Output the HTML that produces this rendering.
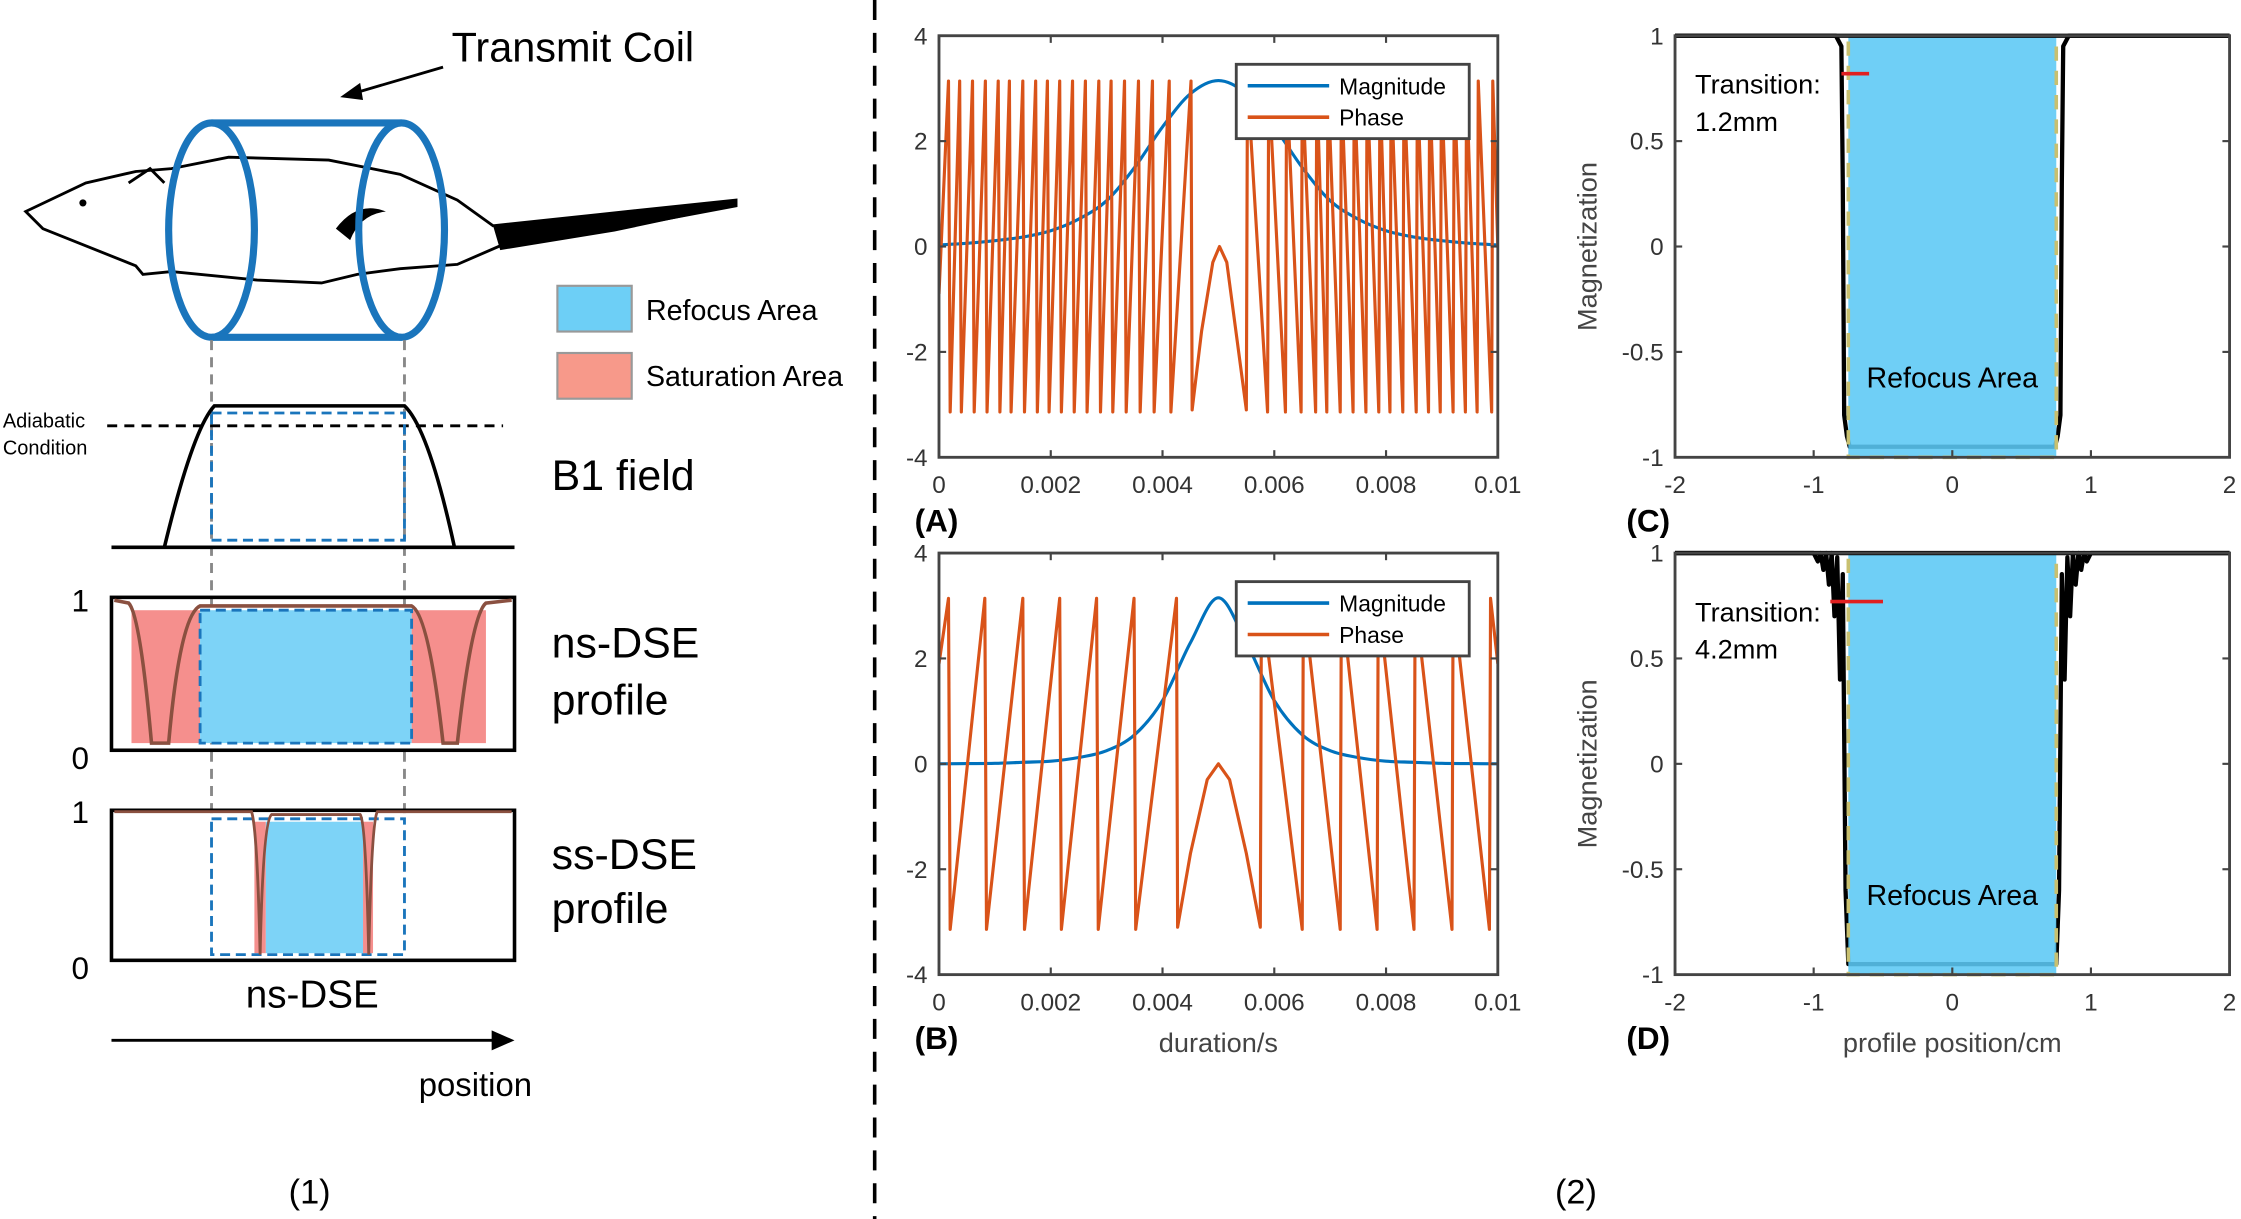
<!DOCTYPE html>
<html><head><meta charset="utf-8"><style>
html,body{margin:0;padding:0;background:#fff;}
svg{display:block;font-family:"Liberation Sans",sans-serif;}
</style></head><body>
<svg id="fig" xmlns="http://www.w3.org/2000/svg" width="2241" height="1219" viewBox="0 0 1568 853" preserveAspectRatio="none">
<rect x="0" y="0" width="1568" height="853" fill="#fff"/>
<g>
  <text x="316" y="43" font-size="29">Transmit Coil</text>
  <line x1="310" y1="47" x2="245" y2="66" stroke="#000" stroke-width="2"/>
  <polygon points="238,68 252,58 254,70" fill="#000"/>
  <g>
    <path d="M18,148 L60,128 L95,120 L120,118 L160,110 L230,112 L280,122 L320,140 L345,158 L420,150 L515,140 L515,144 L430,160 L350,172 L320,185 L280,188 L250,192 L225,198 L180,196 L120,190 L100,192 L95,186 L60,172 L30,160 Z" fill="#fff" stroke="#000" stroke-width="2"/>
    <path d="M345,158 L420,150 L515,140 L515,144 L430,162 L350,175 Z" fill="#000"/>
    <path d="M235,160 Q250,140 270,148 Q252,150 245,168 Z" fill="#000"/>
    <path d="M90,128 L105,118 L115,128" fill="none" stroke="#000" stroke-width="2"/>
    <circle cx="58" cy="142" r="2.5" fill="#000"/>
  </g>
  <g fill="none" stroke="#1a75bc" stroke-width="5">
    <ellipse cx="148" cy="161" rx="30" ry="75"/>
    <ellipse cx="281" cy="161" rx="30" ry="75"/>
    <line x1="148" y1="86" x2="281" y2="86"/>
    <line x1="148" y1="236" x2="281" y2="236"/>
  </g>
  <line x1="148" y1="238" x2="148" y2="572" stroke="#888" stroke-width="2" stroke-dasharray="7,5"/>
  <line x1="283" y1="238" x2="283" y2="572" stroke="#888" stroke-width="2" stroke-dasharray="7,5"/>
  <rect x="390" y="200" width="52" height="32" fill="#6dcff6" stroke="#999" stroke-width="1.5"/>
  <text x="452" y="224" font-size="20">Refocus Area</text>
  <rect x="390" y="247" width="52" height="32" fill="#f7998a" stroke="#999" stroke-width="1.5"/>
  <text x="452" y="270" font-size="20">Saturation Area</text>
  <line x1="75" y1="298" x2="352" y2="298" stroke="#000" stroke-width="2" stroke-dasharray="7,5"/>
  <text x="2" y="299" font-size="14">Adiabatic</text>
  <text x="2" y="318" font-size="14">Condition</text>
  <line x1="78" y1="383" x2="360" y2="383" stroke="#000" stroke-width="2.5"/>
  <path d="M115,383 Q135,300 150,284 L283,284 Q300,300 318,383" fill="none" stroke="#000" stroke-width="2.5"/>
  <rect x="148" y="289" width="135" height="89" fill="none" stroke="#1a75bc" stroke-width="2" stroke-dasharray="7,4"/>
  <text x="386" y="343" font-size="30">B1 field</text>
  <g>
    <rect x="92" y="427" width="48" height="93" fill="#f58f8d"/>
    <rect x="288" y="427" width="52" height="93" fill="#f58f8d"/>
    <rect x="140" y="427" width="148" height="93" fill="#7dd3f7"/>
    <rect x="140" y="427" width="148" height="93" fill="none" stroke="#1a75bc" stroke-width="2" stroke-dasharray="7,4"/>
    <rect x="78" y="418" width="282" height="107" fill="none" stroke="#000" stroke-width="2.5"/>
    <path d="M80,420 L90,422 Q98,430 106,520 L118,520 Q126,430 140,424 L288,424 Q300,430 310,520 L320,520 Q330,430 340,422 L358,420" fill="none" stroke="#8a5040" stroke-width="2.5"/>
  </g>
  <text x="50" y="428" font-size="22">1</text><text x="50" y="538" font-size="22">0</text>
  <text x="386" y="460" font-size="30">ns-DSE</text>
  <text x="386" y="500" font-size="30">profile</text>
  <g>
    <rect x="178" y="575" width="8" height="92" fill="#f58f8d"/>
    <rect x="254" y="575" width="7" height="92" fill="#f58f8d"/>
    <rect x="186" y="575" width="68" height="92" fill="#7dd3f7"/>
    <rect x="148" y="573" width="135" height="95" fill="none" stroke="#1a75bc" stroke-width="2" stroke-dasharray="7,4"/>
    <rect x="78" y="567" width="282" height="105" fill="none" stroke="#000" stroke-width="2.5"/>
    <path d="M80,568 L176,568 Q180,580 182,668 M182,668 Q184,575 190,570 L252,570 Q256,575 258,668 M258,668 Q260,575 264,568 L358,568" fill="none" stroke="#8a5040" stroke-width="2"/>
  </g>
  <text x="50" y="576" font-size="22">1</text><text x="50" y="685" font-size="22">0</text>
  <text x="386" y="608" font-size="30">ss-DSE</text>
  <text x="386" y="646" font-size="30">profile</text>
  <text x="172" y="705" font-size="27">ns-DSE</text>
  <line x1="78" y1="728" x2="350" y2="728" stroke="#000" stroke-width="2"/>
  <polygon points="360,728 344,721 344,735" fill="#000"/>
  <text x="293" y="767" font-size="23">position</text>
  <text x="202" y="842" font-size="24">(1)</text>
</g>
<line x1="612" y1="0" x2="612" y2="853" stroke="#000" stroke-width="2.5" stroke-dasharray="14,9"/>
<text x="1088" y="842" font-size="24">(2)</text>
<g id="charts"></g>
</svg>
<script>
const magT = [0,0.0005,0.001,0.0015,0.002,0.0025,0.003,0.0035,0.004,0.0045,0.005,0.0055,0.006,0.0065,0.007,0.0075,0.008,0.0085,0.009,0.0095,0.01];
const magA = [0.03,0.06,0.11,0.18,0.3,0.52,0.87,1.5,2.27,2.9,3.15,2.9,2.27,1.5,0.87,0.52,0.3,0.18,0.11,0.06,0.03];
const magB = [0.0,0.005,0.01,0.03,0.05,0.12,0.25,0.55,1.2,2.3,3.15,2.3,1.2,0.55,0.25,0.12,0.05,0.03,0.01,0.005,0.0];
const wrapLeftA = [0.00017,0.00037,0.0006,0.00083,0.00106,0.00126,0.0015,0.00173,0.00194,0.00216,0.00239,0.00262,0.00286,0.00308,0.00332,0.00357,0.00382,0.00412];
const archA = [[0.00453,-3.1],[0.0047,-1.6],[0.0049,-0.3],[0.00502,0],[0.00515,-0.3],[0.0053,-1.5],[0.0055,-3.1]];
const wrapRightA = [0.00588,0.0062,0.00648,0.00674,0.00694,0.00718,0.00741,0.00764,0.00787,0.00807,0.0083,0.00854,0.00876,0.00897,0.0092,0.00942,0.00963,0.00989];
const phaseStartA = -0.9, phaseEndA = 0.0;
const wrapLeftB = [0.00017,0.00082,0.0015,0.00216,0.00282,0.00349];
const archB = [[0.00427,-3.1],[0.0045,-1.7],[0.0048,-0.3],[0.005,0],[0.0052,-0.3],[0.0055,-1.7],[0.00575,-3.1]];
const wrapRightB = [0.0065,0.00718,0.00784,0.0085,0.00918,0.00985];
const phaseStartB = 1.9, phaseEndB = 1.9;
const xTicksT = [0,0.002,0.004,0.006,0.008,0.01];
const xTickLabelsT = ["0","0.002","0.004","0.006","0.008","0.01"];
const yTicksT = [-4,-2,0,2,4];
const xTicksP = [-2,-1,0,1,2];
const yTicksP = [-1,-0.5,0,0.5,1];
const yTickLabelsP = ["-1","-0.5","0","0.5","1"];
const profPosC = [-2,-0.84,-0.8,-0.79,-0.78,-0.76,-0.74,0.74,0.76,0.78,0.79,0.8,0.84,2];
const profValC = [1,1,0.95,0.3,-0.8,-0.9,-0.95,-0.95,-0.9,-0.8,0.3,0.95,1,1];
const profPosD = [-2,-1.0,-0.97,-0.95,-0.93,-0.91,-0.89,-0.87,-0.85,-0.83,-0.81,-0.79,-0.77,-0.75,0.75,0.77,0.79,0.81,0.83,0.85,0.87,0.89,0.91,0.93,0.95,0.97,1.0,2];
const profValD = [1,1,0.96,1,0.92,1,0.85,1,0.7,0.98,0.4,0.9,-0.6,-0.95,-0.95,-0.6,0.9,0.4,0.98,0.7,1,0.85,1,0.92,1,0.96,1,1];
const refocusRange = [-0.75,0.75];

const NS='http://www.w3.org/2000/svg';
const root=document.getElementById('charts');
function mk(tag,attrs,parent){const e=document.createElementNS(NS,tag);for(const k in attrs)e.setAttribute(k,attrs[k]);(parent||root).appendChild(e);return e;}
function scale(d0,d1,r0,r1){return v=>r0+(v-d0)/(d1-d0)*(r1-r0);}
function smoothPath(p){
  let d='M'+p[0][0]+','+p[0][1];
  for(let i=0;i<p.length-1;i++){
    const p0=p[i-1]||p[i],p1=p[i],p2=p[i+1],p3=p[i+2]||p2;
    const c1=[p1[0]+(p2[0]-p0[0])/6,p1[1]+(p2[1]-p0[1])/6];
    const c2=[p2[0]-(p3[0]-p1[0])/6,p2[1]-(p3[1]-p1[1])/6];
    d+=' C'+c1[0]+','+c1[1]+' '+c2[0]+','+c2[1]+' '+p2[0]+','+p2[1];
  }
  return d;
}

function buildPhase(start,wl,arch,wr,end){
  const pts=[[0,start]];
  wl.forEach(w=>{pts.push([w,3.14]);pts.push([w+0.00003,-3.14]);});
  pts.push([arch[0][0]-0.00002,3.14]);
  arch.forEach(p=>pts.push(p));
  pts.push([arch[arch.length-1][0]+0.00002,3.14]);
  wr.forEach(w=>{pts.push([w,-3.14]);pts.push([w+0.00002,3.14]);});
  pts.push([0.01,end]);
  return pts;
}

function timeChart(x0,y0,w,h,mag,phasePts,label,xlabel,name){
  const g=mk('g',{});
  
  
  const sx=scale(0,0.01,x0,x0+w), sy=scale(-4,4,y0+h,y0);
  const cp='cp'+name; const c=mk('clipPath',{id:cp},g); mk('rect',{x:x0,y:y0,width:w,height:h},c);
  const mp=mk('path',{d:smoothPath(magT.map((t,i)=>[sx(t),sy(mag[i])])),fill:'none',stroke:'#0072bd','stroke-width':2.2},g);
  
  
  const pp=mk('polyline',{points:phasePts.map(p=>sx(p[0])+','+sy(p[1])).join(' '),fill:'none',stroke:'#d95319','stroke-width':2.2,'stroke-linejoin':'round','clip-path':'url(#'+cp+')'},g);
  
  
  mk('rect',{x:x0,y:y0,width:w,height:h,fill:'none',stroke:'#444','stroke-width':2},g);
  xTicksT.forEach((t,i)=>{const X=sx(t);mk('line',{x1:X,y1:y0+h,x2:X,y2:y0+h-5,stroke:'#444','stroke-width':1.5},g);mk('line',{x1:X,y1:y0,x2:X,y2:y0+5,stroke:'#444','stroke-width':1.5},g);
    const tx=mk('text',{x:X,y:y0+h+25,'font-size':17,'text-anchor':'middle',fill:'#333'},g);tx.textContent=xTickLabelsT[i];
    
    });
  yTicksT.forEach(v=>{const Y=sy(v);mk('line',{x1:x0,y1:Y,x2:x0+5,y2:Y,stroke:'#444','stroke-width':1.5},g);mk('line',{x1:x0+w,y1:Y,x2:x0+w-5,y2:Y,stroke:'#444','stroke-width':1.5},g);
    const tx=mk('text',{x:x0-8,y:Y+6,'font-size':17,'text-anchor':'end',fill:'#333'},g);tx.textContent=String(v);
    
    });
  const lg=mk('g',{},g);
  
  
  mk('rect',{x:x0+208,y:y0+20,width:163,height:52,fill:'#fff',stroke:'#444','stroke-width':2},lg);
  mk('line',{x1:x0+216,y1:y0+35,x2:x0+273,y2:y0+35,stroke:'#0072bd','stroke-width':2.5},lg);
  mk('line',{x1:x0+216,y1:y0+57,x2:x0+273,y2:y0+57,stroke:'#d95319','stroke-width':2.5},lg);
  let t1=mk('text',{x:x0+280,y:y0+41,'font-size':16},lg);t1.textContent='Magnitude';
  let t2=mk('text',{x:x0+280,y:y0+63,'font-size':16},lg);t2.textContent='Phase';
  const pl=mk('text',{x:x0-17,y:y0+h+52,'font-size':22,'font-weight':'bold'},g);pl.textContent=label;
  
  
  if(xlabel){const xl=mk('text',{x:x0+w/2,y:y0+h+54,'font-size':19,'text-anchor':'middle',fill:'#444'},g);xl.textContent=xlabel;
    
    }
}

function profChart(x0,y0,w,h,pos,val,label,xlabel,trans,transY,transX,name){
  const g=mk('g',{});
  
  
  const sx=scale(-2,2,x0,x0+w), sy=scale(-1,1,y0+h,y0);
  const pl=mk('polyline',{points:pos.map((p,i)=>sx(p)+','+sy(val[i])).join(' '),fill:'none',stroke:'#000','stroke-width':3,'stroke-linejoin':'round'},g);
  
  
  const ra=mk('rect',{x:sx(refocusRange[0]),y:y0,width:sx(refocusRange[1])-sx(refocusRange[0]),height:h,fill:'#5bc8f5','fill-opacity':0.88,stroke:'#c8c070','stroke-width':2.5,'stroke-dasharray':'10,7'},g);
  
  
  mk('line',{x1:x0,y1:y0,x2:x0+w,y2:y0,stroke:'#000','stroke-width':3},g);
  mk('rect',{x:x0,y:y0,width:w,height:h,fill:'none',stroke:'#444','stroke-width':2},g);
  xTicksP.forEach(v=>{const X=sx(v);mk('line',{x1:X,y1:y0+h,x2:X,y2:y0+h-5,stroke:'#444','stroke-width':1.5},g);
    const tx=mk('text',{x:X,y:y0+h+25,'font-size':17,'text-anchor':'middle',fill:'#333'},g);tx.textContent=String(v);
    
    });
  yTicksP.forEach((v,i)=>{const Y=sy(v);mk('line',{x1:x0,y1:Y,x2:x0+5,y2:Y,stroke:'#444','stroke-width':1.5},g);mk('line',{x1:x0+w,y1:Y,x2:x0+w-5,y2:Y,stroke:'#444','stroke-width':1.5},g);
    const tx=mk('text',{x:x0-8,y:Y+6,'font-size':17,'text-anchor':'end',fill:'#333'},g);tx.textContent=yTickLabelsP[i];
    
    });
  const yl=mk('text',{x:0,y:0,'font-size':19,'text-anchor':'middle',fill:'#444',transform:'translate('+(x0-55)+','+(y0+h/2)+') rotate(-90)'},g);yl.textContent='Magnetization';
  
  
  const rt=mk('text',{x:sx(0),y:sy(-0.67),'font-size':20,'text-anchor':'middle'},g);rt.textContent='Refocus Area';
  mk('line',{x1:sx(transX[0]),y1:sy(transY),x2:sx(transX[1]),y2:sy(transY),stroke:'#e02020','stroke-width':2.5},g);
  const t1=mk('text',{x:x0+14,y:sy(transY)+14,'font-size':19},g);t1.textContent='Transition:';
  const t2=mk('text',{x:x0+14,y:sy(transY)+40,'font-size':19},g);t2.textContent=trans;
  const plab=mk('text',{x:x0-34,y:y0+h+52,'font-size':22,'font-weight':'bold'},g);plab.textContent=label;
  
  
  if(xlabel){const xl=mk('text',{x:x0+w/2,y:y0+h+54,'font-size':19,'text-anchor':'middle',fill:'#444'},g);xl.textContent=xlabel;
    
    }
}

timeChart(657,25,391,295,magA,buildPhase(phaseStartA,wrapLeftA,archA,wrapRightA,phaseEndA),'(A)',null,'chart-a');
timeChart(657,387,391,295,magB,buildPhase(phaseStartB,wrapLeftB,archB,wrapRightB,phaseEndB),'(B)','duration/s','chart-b');
profChart(1172,25,388,295,profPosC,profValC,'(C)',null,'1.2mm',0.82,[-0.8,-0.6],'chart-c');
profChart(1172,387,388,295,profPosD,profValD,'(D)','profile position/cm','4.2mm',0.77,[-0.88,-0.5],'chart-d');
</script>
</body></html>
